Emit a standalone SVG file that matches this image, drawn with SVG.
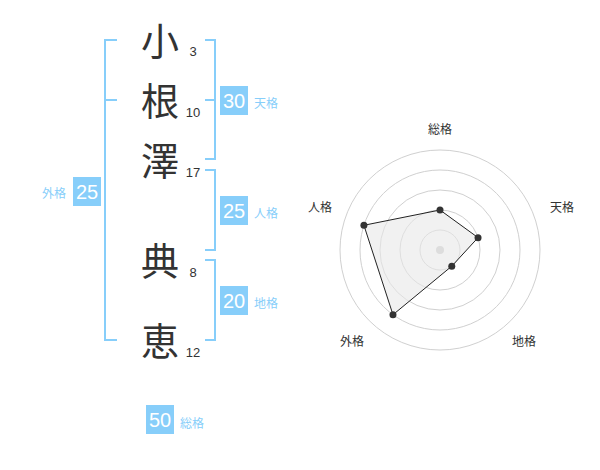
<svg xmlns="http://www.w3.org/2000/svg" width="600" height="470" viewBox="0 0 600 470">
<style>
.ch{font-family:"Noto Sans CJK JP","Noto Sans CJK SC",sans-serif;font-size:38px;fill:#333;text-anchor:middle}
.num{font-family:"Liberation Sans",Arial,sans-serif;font-size:13px;fill:#333;text-anchor:middle}
.br{fill:none;stroke:#87cefa;stroke-width:2}
.box{fill:#87cefa}
.bn{font-family:"Liberation Sans",Arial,sans-serif;font-size:20px;fill:#fff;text-anchor:middle}
.bl{font-family:"Noto Sans CJK JP","Noto Sans CJK SC",sans-serif;font-size:12px;fill:#87cefa}
.ring{fill:none;stroke:#d0d0d0;stroke-width:1}
.rl{font-family:"Noto Sans CJK JP","Noto Sans CJK SC",sans-serif;font-size:12px;fill:#333;text-anchor:middle}
.dot{fill:#333}
</style>
<g id="connectors">
<path class="br" d="M117,40 H105 V340 H117 M105,100 H117"/>
<path class="br" d="M205,40 H215 V159 H205 M205,100 H215"/>
<path class="br" d="M205,170 H215 V250 H205"/>
<path class="br" d="M205,260 H215 V340 H205"/>
</g>
<g id="char-1"><text class="ch" x="160" y="55">小</text><text class="num" x="193" y="56">3</text></g>
<g id="char-2"><text class="ch" x="160" y="115">根</text><text class="num" x="193" y="117">10</text></g>
<g id="char-3"><text class="ch" x="160" y="175">澤</text><text class="num" x="193" y="177">17</text></g>
<g id="char-4"><text class="ch" x="160" y="275">典</text><text class="num" x="193" y="277">8</text></g>
<g id="char-5"><text class="ch" x="160" y="355">恵</text><text class="num" x="193" y="357">12</text></g>
<g id="gaikaku"><rect class="box" x="73" y="177" width="28" height="29"/><text class="bn" x="87" y="198.5">25</text><text class="bl" x="66" y="198" text-anchor="end">外格</text></g>
<g id="tenkaku"><rect class="box" x="220" y="86" width="28" height="29"/><text class="bn" x="234" y="107.5">30</text><text class="bl" x="254" y="108">天格</text></g>
<g id="jinkaku"><rect class="box" x="220" y="196" width="28" height="29"/><text class="bn" x="234" y="217.5">25</text><text class="bl" x="254" y="218">人格</text></g>
<g id="chikaku"><rect class="box" x="220" y="286" width="28" height="29"/><text class="bn" x="234" y="307.5">20</text><text class="bl" x="254" y="308">地格</text></g>
<g id="soukaku"><rect class="box" x="146" y="405" width="28" height="29"/><text class="bn" x="160" y="426.5">50</text><text class="bl" x="180" y="428">総格</text></g>
<g id="radar">
<circle class="ring" cx="440" cy="250" r="20"/>
<circle class="ring" cx="440" cy="250" r="40"/>
<circle class="ring" cx="440" cy="250" r="60"/>
<circle class="ring" cx="440" cy="250" r="80"/>
<circle class="ring" cx="440" cy="250" r="100"/>
<circle cx="440" cy="250" r="4" fill="#ccc"/>
<polygon points="440,210 478.04,237.64 451.76,266.18 392.98,314.72 363.92,225.28" fill="#e8e8e8" fill-opacity="0.6" stroke="#222" stroke-width="1"/>
<circle class="dot" cx="440" cy="210" r="3.5"/>
<circle class="dot" cx="478.04" cy="237.64" r="3.5"/>
<circle class="dot" cx="451.76" cy="266.18" r="3.5"/>
<circle class="dot" cx="392.98" cy="314.72" r="3.5"/>
<circle class="dot" cx="363.92" cy="225.28" r="3.5"/>
<text class="rl" x="440" y="134">総格</text>
<text class="rl" x="562" y="212">天格</text>
<text class="rl" x="524" y="346">地格</text>
<text class="rl" x="352" y="346">外格</text>
<text class="rl" x="320" y="212">人格</text>
</g>
</svg>
